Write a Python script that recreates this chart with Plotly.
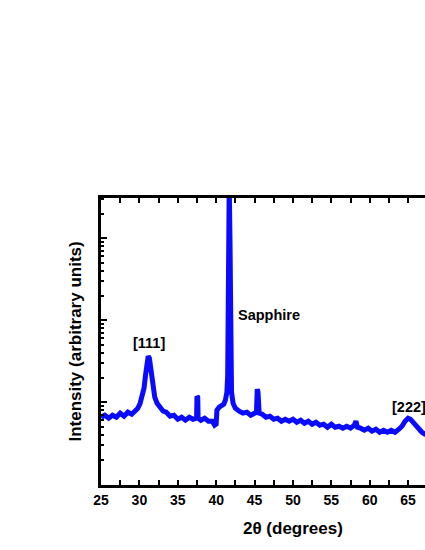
import plotly.graph_objects as go

# 2-theta (degrees) and intensity (arbitrary units)
two_theta = [
    25.0, 25.5, 26.0, 26.5, 27.0, 27.5, 28.0, 28.5, 29.0, 29.5, 29.8, 30.1,
    30.4, 30.6, 30.8, 31.0, 31.15, 31.3, 31.45, 31.6, 31.8, 32.0, 32.3, 32.7,
    33.1, 33.5, 34.0, 34.5, 35.0, 35.5, 36.0, 36.5, 37.0, 37.45, 37.5, 37.6,
    37.65, 38.0, 38.5, 39.0, 39.5, 39.8, 40.0, 40.1, 40.4, 40.7, 41.0, 41.2,
    41.4, 41.5, 41.6, 41.7, 41.8, 41.85, 41.9, 42.0, 42.2, 42.5, 43.0, 43.5,
    44.0, 44.5, 45.0, 45.25, 45.35, 45.45, 45.6, 46.0, 46.5, 47.0, 47.5, 48.0,
    48.5, 49.0, 49.5, 50.0, 50.5, 51.0, 51.5, 52.0, 52.5, 53.0, 53.5, 54.0,
    54.5, 55.0, 55.5, 56.0, 56.5, 57.0, 57.5, 58.0, 58.2, 58.4, 58.8, 59.3,
    59.8, 60.3, 60.8, 61.3, 61.8, 62.3, 62.8, 63.3, 63.8, 64.2, 64.6, 65.0,
    65.3, 65.6, 66.0, 66.4, 66.8, 67.2, 67.6,
]
intensity = [
    65.6, 69.4, 63.8, 69.4, 65.6, 73.4, 67.5, 75.5, 71.4, 79.9, 84.5, 97.2,
    118.4, 148.2, 213.5, 307.4, 363.9, 344.1, 274.9, 196.2, 140.0, 115.1, 97.2, 86.9,
    77.7, 75.5, 67.5, 69.4, 62.0, 65.6, 60.3, 65.6, 62.0, 63.8, 118.4, 115.1,
    63.8, 60.3, 63.8, 58.6, 58.6, 52.4, 53.9, 79.9, 86.9, 91.9, 94.5, 105.8,
    132.4, 213.5, 1754, 44260, 9460, 570, 282, 132.4, 97.2, 84.5, 77.7, 73.4,
    75.5, 69.4, 73.4, 75.5, 144.0, 132.4, 73.4, 71.4, 65.6, 67.5, 62.0, 63.8,
    58.6, 62.0, 58.6, 62.0, 57.0, 60.3, 55.4, 58.6, 53.9, 57.0, 52.4, 53.9,
    49.5, 53.9, 49.5, 50.9, 48.2, 50.9, 48.2, 52.4, 58.6, 49.5, 48.2, 45.5,
    48.2, 44.3, 46.8, 43.0, 45.5, 43.0, 45.5, 43.0, 46.8, 50.9, 58.6, 63.8,
    62.0, 57.0, 50.9, 46.8, 43.0, 40.7, 39.6,
]

x_ticks = [25, 30, 35, 40, 45, 50, 55, 60, 65]
y_major = [10, 100, 1000, 10000]
y_minor = [m * d for d in (10, 100, 1000) for m in range(2, 10)] + [20000, 30000]

# peak labels: (text, 2theta, log10 intensity, anchor)
peak_labels = [
    ("[111]", 31.2, 2.72, "center"),
    ("Sapphire", 42.58, 3.06, "left"),
    ("[222]", 62.63, 1.94, "left"),
]

FONT = "Liberation Sans, Arial, sans-serif"

fig = go.Figure()
fig.add_trace(go.Scatter(
    x=two_theta,
    y=intensity,
    mode="lines",
    line=dict(color="#0a0aff", width=5),
    showlegend=False,
))
# empty trace so the minor-tick overlay axis gets drawn
fig.add_trace(go.Scatter(x=[], y=[], yaxis="y2", showlegend=False, hoverinfo="skip"))

for text, x, y, anchor in peak_labels:
    fig.add_annotation(
        x=x, y=y, xref="x", yref="y", text=text, showarrow=False,
        xanchor=anchor, yanchor="middle",
        font=dict(family=FONT, size=14.5, color="black", weight="bold"),
    )

# x title centred where the full-width frame would put it
fig.add_annotation(
    x=50, y=-0.15, xref="x", yref="paper", text="2θ (degrees)", showarrow=False,
    xanchor="center", yanchor="middle",
    font=dict(family=FONT, size=17, color="black", weight="bold"),
)
fig.add_annotation(
    x=-0.08, y=0.5, xref="paper", yref="paper", text="Intensity (arbitrary units)",
    showarrow=False, textangle=-90, xanchor="center", yanchor="middle",
    font=dict(family=FONT, size=17, color="black", weight="bold"),
)

fig.update_layout(
    width=425,
    height=550,
    margin=dict(l=101, r=0, t=198, b=65),
    plot_bgcolor="white",
    paper_bgcolor="white",
    font=dict(family=FONT, color="black"),
    xaxis=dict(
        range=[25, 67.2],
        tickvals=x_ticks,
        ticks="inside", ticklen=5, tickwidth=2, tickcolor="black",
        minor=dict(dtick=2.5, tick0=25, ticks="inside", ticklen=3, tickwidth=2, tickcolor="black"),
        showline=True, linewidth=3, linecolor="black", mirror="allticks",
        showgrid=False, zeroline=False,
        tickfont=dict(family=FONT, size=14, color="black", weight="bold"),
    ),
    yaxis=dict(
        type="log",
        range=[0.99, 4.49],
        tickvals=y_major,
        ticks="inside", ticklen=6, tickwidth=2, tickcolor="black",
        showticklabels=False,
        showline=True, linewidth=3, linecolor="black", mirror=False,
        showgrid=False, zeroline=False,
    ),
    yaxis2=dict(
        type="log",
        range=[0.99, 4.49],
        overlaying="y", side="left", anchor="x",
        tickvals=y_minor,
        ticks="inside", ticklen=3, tickwidth=2, tickcolor="black",
        showticklabels=False, showline=False,
        showgrid=False, zeroline=False,
    ),
)

# drop the default page margin so the 425x550 figure fills the window exactly
fig.write_html(
    "out.html",
    config={"displayModeBar": False},
    post_script="document.body.style.margin='0';document.body.style.overflow='hidden';",
)
